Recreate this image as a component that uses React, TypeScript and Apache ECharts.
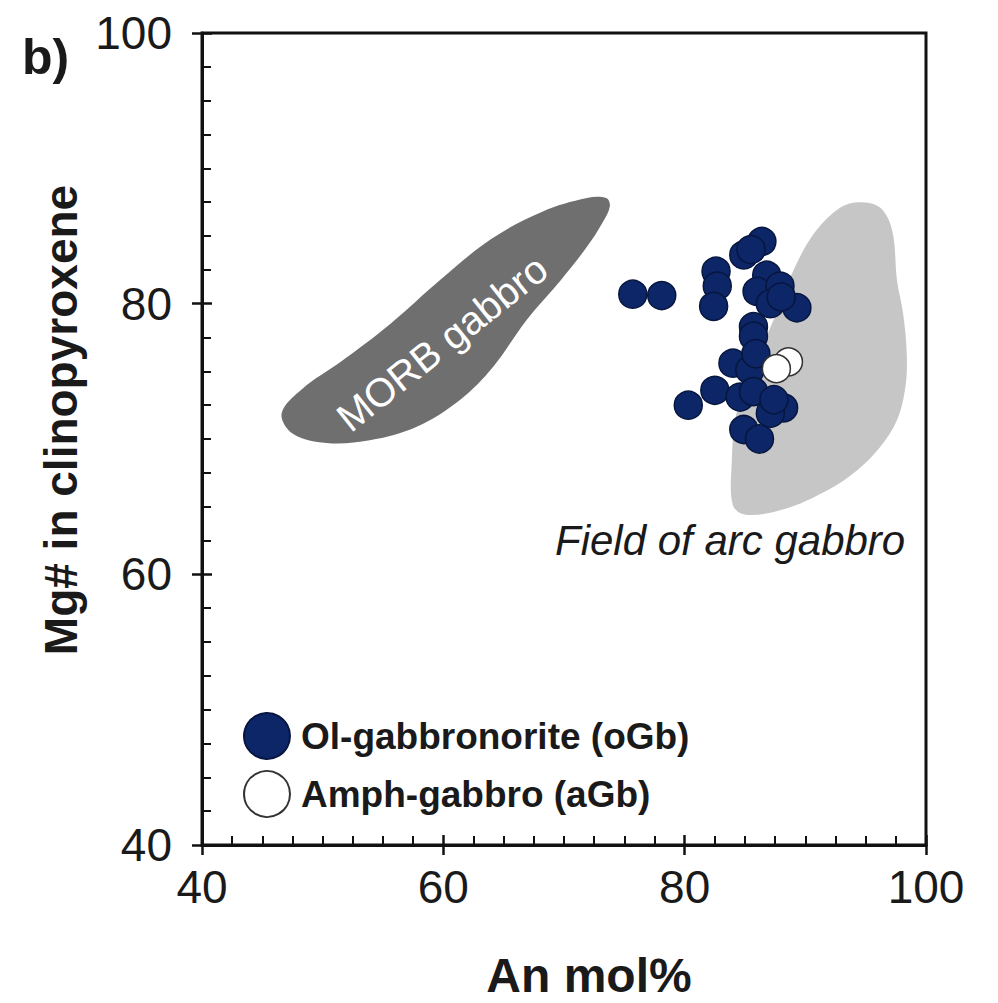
import React, { useEffect, useRef } from "react";
import * as echarts from "echarts";

// Ol-gabbronorite (oGb)
const oGbX = [75.7, 78.1, 82.6, 82.7, 82.4, 84.9, 86.4, 85.5, 86.8, 86.0, 87.9, 87.1, 89.3, 85.7, 85.7, 84.0, 85.4, 80.3, 82.5, 84.6, 85.7, 88.2, 87.1, 84.9, 86.2, 87.4, 85.9, 88.0];
const oGbY = [80.7, 80.6, 82.4, 81.3, 79.8, 83.6, 84.6, 84.0, 82.1, 80.9, 81.3, 80.0, 79.7, 78.3, 77.6, 75.6, 75.1, 72.5, 73.6, 73.1, 73.5, 72.3, 71.9, 70.7, 70.0, 72.9, 76.3, 80.5];
// Amph-gabbro (aGb)
const aGbX = [88.6, 87.6];
const aGbY = [75.7, 75.2];

// MORB gabbro field outline
const morbX = [46.6, 47.5, 50.3, 53.9, 57.8, 61.4, 64.1, 66.9, 69.7, 71.9, 73.2, 73.8, 73.5, 71.9, 68.2, 64.0, 59.8, 55.6, 51.5, 48.3];
const morbY = [71.9, 70.4, 69.7, 69.9, 70.9, 72.9, 75.3, 78.8, 81.7, 84.2, 86.0, 87.2, 87.8, 87.8, 86.8, 84.8, 81.8, 78.5, 75.7, 73.7];

// Arc gabbro field outline
const arcX = [94.5, 96.2, 97.2, 97.6, 98.1, 98.4, 98.3, 97.6, 96.2, 94.3, 91.8, 88.2, 85.1, 84.0, 83.9, 84.3, 85.7, 87.6, 89.3, 90.9, 92.9];
const arcY = [87.5, 87.1, 85.4, 81.7, 79.3, 76.4, 73.9, 71.4, 69.4, 67.7, 66.2, 64.8, 64.4, 65.1, 68.2, 71.9, 75.3, 79.3, 83.0, 85.4, 87.1];

const xTicks = [40, 60, 80, 100];
const yTicks = [40, 60, 80, 100];

const FONT = "'Liberation Sans', Arial, sans-serif";

function fieldSeries(xs: number[], ys: number[], color: string) {
  return {
    type: "custom",
    silent: true,
    z: 1,
    data: [[xs[0], ys[0]]],
    renderItem: (params: any, api: any) => {
      const pts = xs.map((x, i) => api.coord([x, ys[i]]));
      return {
        type: "polygon",
        shape: { points: pts, smooth: 0.35 },
        style: { fill: color, stroke: "none" },
      };
    },
  };
}

export default function App() {
  const ref = useRef<HTMLDivElement>(null);
  useEffect(() => {
    const chart = echarts.init(ref.current!, undefined, { renderer: "svg" });
    const axisCommon = {
      type: "value",
      min: 40,
      max: 100,
      interval: 20,
      splitLine: { show: false },
    };
    chart.setOption({
      animation: false,
      backgroundColor: "#ffffff",
      grid: {
        left: 202,
        top: 33,
        right: 72,
        bottom: 158,
        show: true,
        borderColor: "#111",
        borderWidth: 3,
      },
      xAxis: [
        {
          ...axisCommon,
          position: "bottom",
          axisLine: { lineStyle: { color: "#111", width: 3 } },
          axisTick: { inside: true, length: 10, lineStyle: { color: "#111", width: 2.5 } },
          minorTick: { show: true, splitNumber: 8, length: 9, lineStyle: { color: "#111", width: 2 } },
          axisLabel: {
            margin: 19,
            fontSize: 46,
            color: "#1a1a1a",
            fontFamily: FONT,
            formatter: (v: number) => (xTicks.includes(v) ? String(v) : ""),
          },
        },
        {
          ...axisCommon,
          position: "bottom",
          axisLine: { show: false },
          axisTick: { inside: false, length: 10, lineStyle: { color: "#111", width: 2.5 } },
          axisLabel: { show: false },
        },
      ],
      yAxis: [
        {
          ...axisCommon,
          position: "left",
          axisLine: { lineStyle: { color: "#111", width: 3 } },
          axisTick: { inside: true, length: 10, lineStyle: { color: "#111", width: 2.5 } },
          minorTick: { show: true, splitNumber: 8, length: 9, lineStyle: { color: "#111", width: 2 } },
          axisLabel: {
            margin: 30,
            fontSize: 46,
            color: "#1a1a1a",
            fontFamily: FONT,
            formatter: (v: number) => (yTicks.includes(v) ? String(v) : ""),
          },
        },
        {
          ...axisCommon,
          position: "left",
          axisLine: { show: false },
          axisTick: { inside: false, length: 10, lineStyle: { color: "#111", width: 2.5 } },
          axisLabel: { show: false },
        },
      ],
      legend: {
        data: ["Ol-gabbronorite (oGb)", "Amph-gabbro (aGb)"],
        orient: "vertical",
        left: 243,
        top: 712,
        padding: 0,
        itemWidth: 46,
        itemHeight: 46,
        itemGap: 10,
        selectedMode: false,
        textStyle: {
          fontFamily: FONT,
          fontWeight: "bold",
          fontSize: 37,
          color: "#1a1a1a",
          padding: [0, 0, 0, 6],
        },
      },
      series: [
        fieldSeries(morbX, morbY, "#6f6f6f"),
        fieldSeries(arcX, arcY, "#c6c6c6"),
        {
          name: "Ol-gabbronorite (oGb)",
          type: "scatter",
          z: 3,
          symbol: "circle",
          symbolSize: 28,
          itemStyle: { color: "#0c2668", borderColor: "#07163f", borderWidth: 1.5, opacity: 1 },
          data: oGbX.map((x, i) => [x, oGbY[i]]),
        },
        {
          name: "Amph-gabbro (aGb)",
          type: "scatter",
          z: 4,
          symbol: "circle",
          symbolSize: 28,
          itemStyle: { color: "#ffffff", borderColor: "#333333", borderWidth: 1.5, opacity: 1 },
          data: aGbX.map((x, i) => [x, aGbY[i]]),
        },
      ],
      graphic: [
        {
          type: "text",
          x: 22,
          y: 57,
          style: { text: "b)", font: `bold 50px ${FONT}`, fill: "#1a1a1a", verticalAlign: "middle", align: "left" },
        },
        {
          type: "text",
          x: 61,
          y: 420,
          rotation: Math.PI / 2,
          style: { text: "Mg# in clinopyroxene", font: `bold 46px ${FONT}`, fill: "#1a1a1a", align: "center", verticalAlign: "middle" },
        },
        {
          type: "text",
          x: 589,
          y: 975,
          style: { text: "An mol%", font: `bold 48px ${FONT}`, fill: "#1a1a1a", align: "center", verticalAlign: "middle" },
        },
        {
          type: "text",
          x: 442,
          y: 343,
          rotation: (38.5 * Math.PI) / 180,
          z: 10,
          style: { text: "MORB gabbro", font: `40px ${FONT}`, fill: "#ffffff", align: "center", verticalAlign: "middle" },
        },
        {
          type: "text",
          x: 555,
          y: 540,
          z: 10,
          style: { text: "Field of arc gabbro", font: `italic 42px ${FONT}`, fill: "#1a1a1a", align: "left", verticalAlign: "middle" },
        },
      ],
    });
    return () => chart.dispose();
  }, []);
  return <div ref={ref} style={{ position: "fixed", left: 0, top: 0, width: 998, height: 1003 }} />;
}
